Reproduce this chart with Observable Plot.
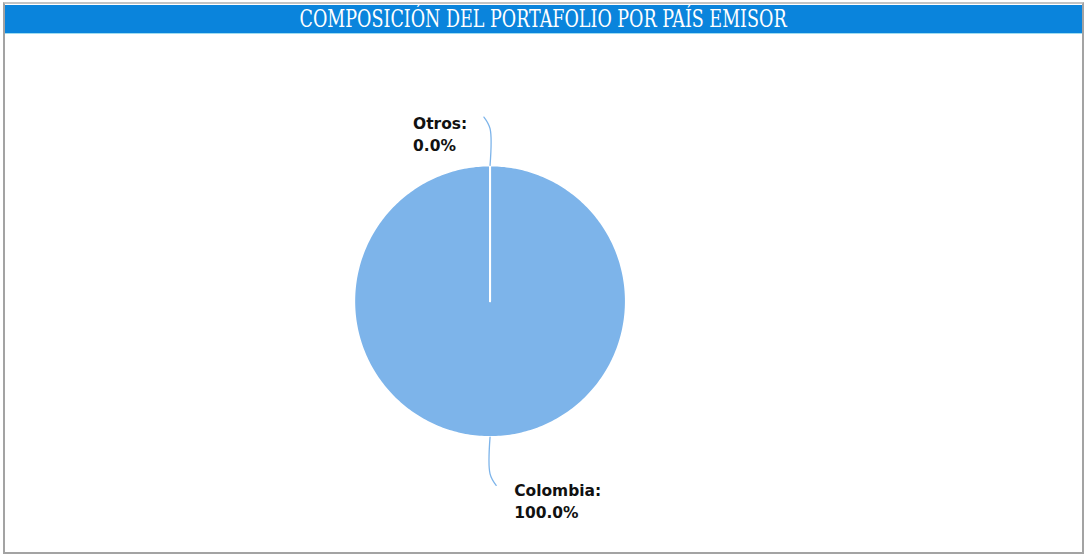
<!DOCTYPE html>
<html>
<head>
<meta charset="utf-8">
<script src="https://cdn.jsdelivr.net/npm/d3@7"></script>
<script src="https://cdn.jsdelivr.net/npm/@observablehq/plot@0.6"></script>
<style>
  html, body { margin: 0; padding: 0; background: #fff; }
  #frame { position: absolute; left: 3px; top: 2px; width: 1077px; height: 548px;
           border: 2px solid #a3a3a3; border-top-color: #c4c4c4; box-sizing: content-box; }
  #bar { position: absolute; left: 0; top: 1px; width: 1077px; height: 28px; background: #0a84dc;
         border-bottom: 1px solid #9fdcf0; overflow: hidden; }
  #title { position: absolute; left: 0; top: 0; width: 1077px; height: 28px; line-height: 28px;
           text-align: center; color: #fff; white-space: nowrap;
           font-family: "DejaVu Serif Condensed", "DejaVu Serif", serif; font-stretch: condensed;
           font-size: 24px; }
  #title span { display: inline-block; transform-origin: center center; }
  #chart { position: absolute; left: 2px; top: 31px; }
</style>
</head>
<body>
<div id="frame">
  <div id="bar"><div id="title"><span id="tspan">COMPOSICIÓN DEL PORTAFOLIO POR PAÍS EMISOR</span></div></div>
  <div id="chart"></div>
</div>
<script>
// Data
const countries = ["Colombia", "Otros"];
const shares = [100.0, 0.0];
const labelSide = ["right", "left"];

// Fit the condensed title width
const tspan = document.getElementById("tspan");
const w = tspan.getBoundingClientRect().width;
tspan.style.transform = `scaleX(${487 / w})`;

const W = 1076, H = 516, cx = 483, cy = 266, R = 136;

const arcs = d3.pie().sort(null).value(d => d.value)(countries.map((c, i) => ({name: c, value: shares[i], side: labelSide[i]})));

// slice outline points (angle clockwise from top, y up)
const slicePts = [];
arcs.forEach(a => {
  const n = Math.max(2, Math.ceil((a.endAngle - a.startAngle) / (Math.PI / 180)));
  slicePts.push({name: a.data.name, x: 0, y: 0});
  for (let k = 0; k <= n; k++) {
    const t = a.startAngle + (a.endAngle - a.startAngle) * k / n;
    slicePts.push({name: a.data.name, x: Math.sin(t), y: Math.cos(t)});
  }
  slicePts.push({name: a.data.name, x: 0, y: 0});
});

// leader lines
const leaderPts = [];
const labels = [];
arcs.forEach(a => {
  const m = (a.startAngle + a.endAngle) / 2;
  const s = a.data.side === "right" ? 1 : -1;
  const ux = Math.sin(m), uy = Math.cos(m);
  const p0 = {x: ux, y: uy};
  const p1 = {x: ux * 1.27, y: uy * 1.27};
  const p2 = {x: ux * 1.33 + s * 0.045, y: uy * 1.355};
  [p0, p1, p2].forEach(p => leaderPts.push({name: a.data.name, ...p}));
  labels.push({name: a.data.name, side: a.data.side, x: p2.x, y: p2.y,
               text: `${a.data.name}:\n${a.data.value.toFixed(1)}%`});
});

const chart = Plot.plot({
  width: W, height: H, margin: 0,
  x: {domain: [-cx / R, (W - cx) / R], axis: null},
  y: {domain: [-(H - cy) / R, cy / R], axis: null},
  marks: [
    Plot.line(slicePts, {x: "x", y: "y", z: "name", fill: "#7db4ea", stroke: "#ffffff", strokeWidth: 2, curve: "linear"}),
    Plot.line(leaderPts, {x: "x", y: "y", z: "name", stroke: "#7db4ea", strokeWidth: 1.3, curve: "catmull-rom"}),
    Plot.text(labels.filter(d => d.side === "left"), {x: "x", y: "y", text: "text", textAnchor: "start", lineAnchor: "top",
      dx: -71, dy: -4, lineHeight: 1.42, fontSize: 15.5, fontWeight: "bold", fill: "#111", fontFamily: "DejaVu Sans"}),
    Plot.text(labels.filter(d => d.side === "right"), {x: "x", y: "y", text: "text", textAnchor: "start", lineAnchor: "top",
      dx: 18, dy: -5, lineHeight: 1.42, fontSize: 15.5, fontWeight: "bold", fill: "#111", fontFamily: "DejaVu Sans"})
  ]
});
document.getElementById("chart").appendChild(chart);
</script>
</body>
</html>
